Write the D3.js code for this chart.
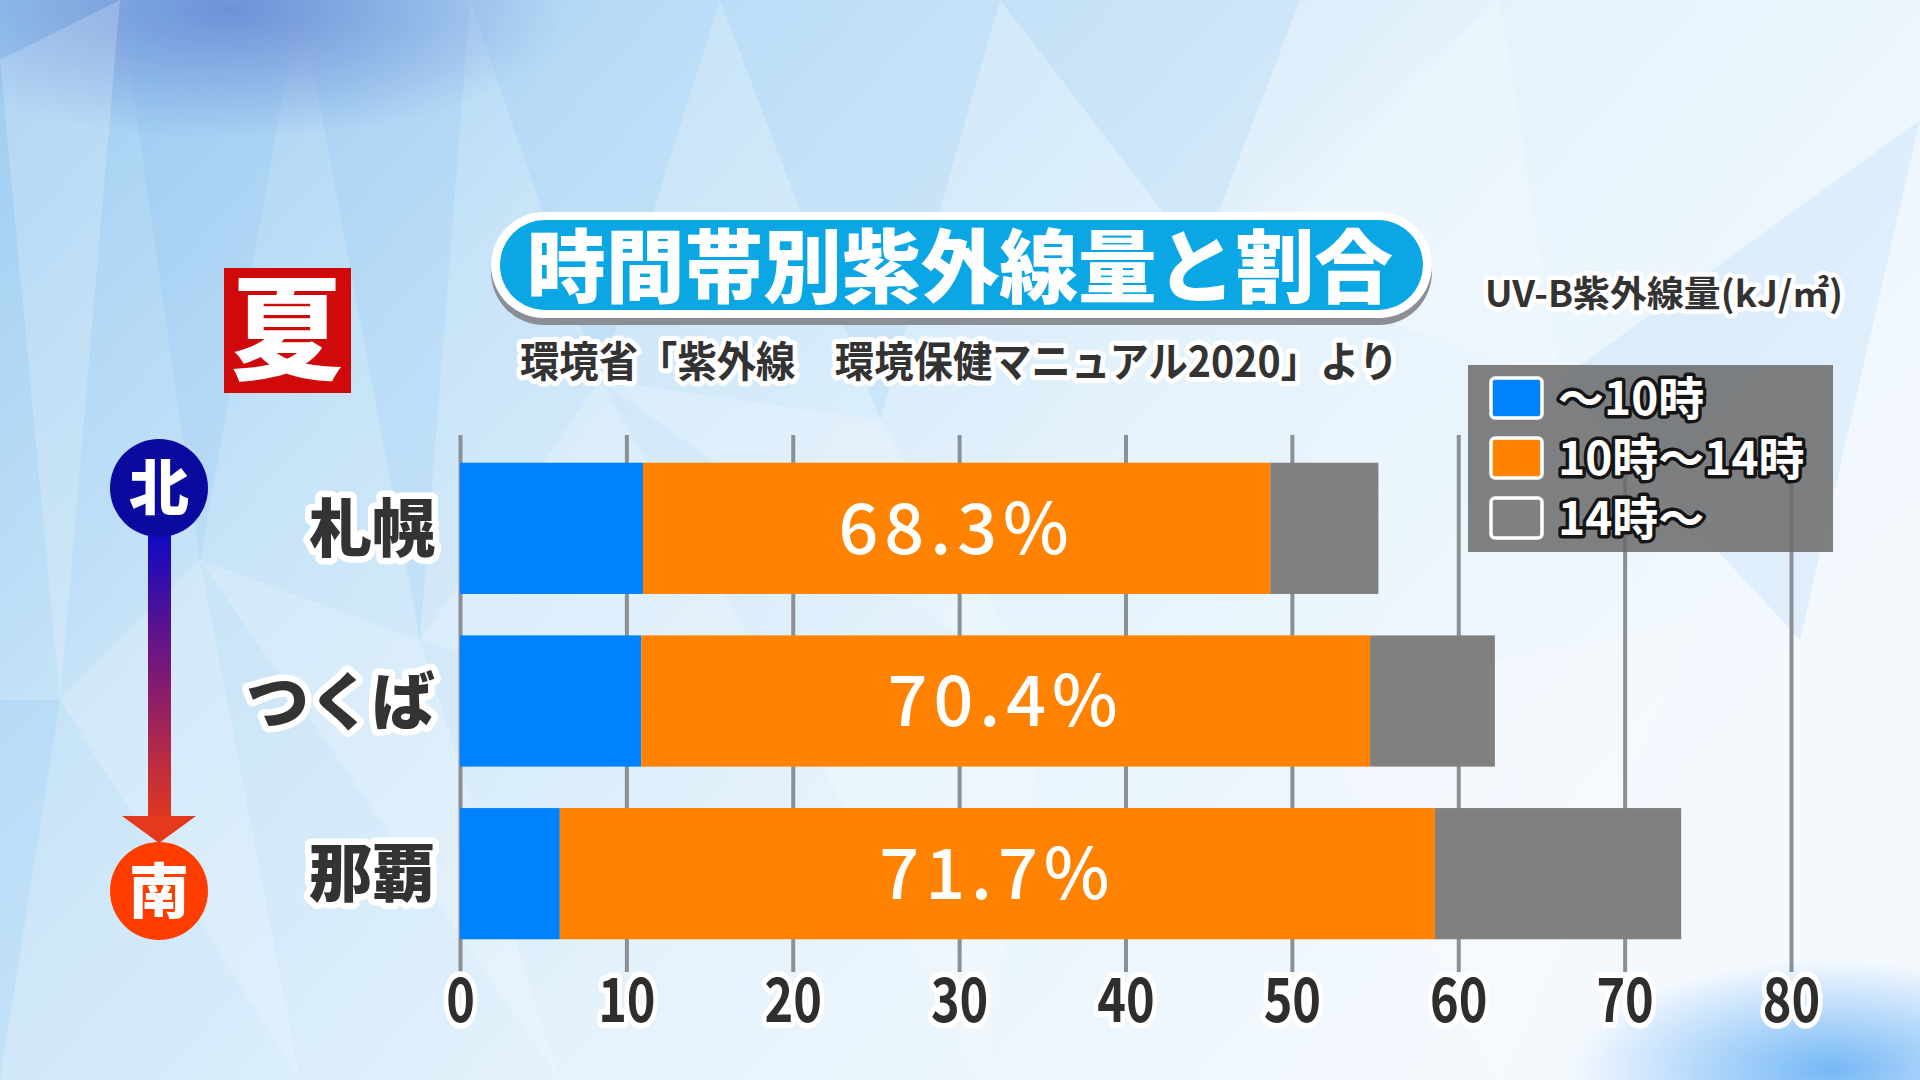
<!DOCTYPE html>
<html>
<head>
<meta charset="utf-8">
<script src="https://cdn.jsdelivr.net/npm/d3@7"></script>
<style>
  html, body { margin:0; padding:0; overflow:hidden; background:#dceefa; }
  svg { display:block; }
  text { font-family:"Noto Sans CJK JP", "Noto Sans", sans-serif; }
</style>
</head>
<body>
<div id="chart-area"></div>
<script>
// data (UV-B, kJ/m2)
var cities = ["札幌", "つくば", "那覇"];
var seriesKeys = ["before10", "mid", "after14"];
var seriesNames = ["～10時", "10時～14時", "14時～"];
var before10 = [11.0, 10.9, 6.0];
var mid10to14 = [37.7, 43.8, 52.6];
var after14 = [6.5, 7.5, 14.8];
var shareLabels = ["68.3%", "70.4%", "71.7%"];
var xTicks = [0, 10, 20, 30, 40, 50, 60, 70, 80];

var colors = ["#0082ff", "#ff8200", "#808080"];

var W = 1920, H = 1080;

var svg = d3.select("#chart-area")
  .append("svg")
    .attr("width", W)
    .attr("height", H);

var defs = svg.append("defs");

// background
var bg = defs.append("linearGradient").attr("id", "bg")
  .attr("x1", "0").attr("y1", "0").attr("x2", "1").attr("y2", "0.5");
bg.append("stop").attr("offset", "0").attr("stop-color", "#9ccbf1");
bg.append("stop").attr("offset", "0.3").attr("stop-color", "#c8e4f8");
bg.append("stop").attr("offset", "0.65").attr("stop-color", "#e6f3fc");
bg.append("stop").attr("offset", "1").attr("stop-color", "#f4f9fe");

var blob = defs.append("radialGradient").attr("id", "blob");
blob.append("stop").attr("offset", "0").attr("stop-color", "#5470c8").attr("stop-opacity", 0.7);
blob.append("stop").attr("offset", "1").attr("stop-color", "#5470c8").attr("stop-opacity", 0);

var blob2 = defs.append("radialGradient").attr("id", "blob2");
blob2.append("stop").attr("offset", "0").attr("stop-color", "#3f9cf2").attr("stop-opacity", 0.7);
blob2.append("stop").attr("offset", "1").attr("stop-color", "#3f9cf2").attr("stop-opacity", 0);

svg.append("rect").attr("width", W).attr("height", H).attr("fill", "url(#bg)");
svg.append("ellipse").attr("cx", 230).attr("cy", 10).attr("rx", 340).attr("ry", 130).attr("fill", "url(#blob)");
svg.append("ellipse").attr("cx", 1830).attr("cy", 1070).attr("rx", 260).attr("ry", 110).attr("fill", "url(#blob2)");

// faceted overlay (tall slivers like the studio backdrop)
var facets = [
  [[0,60],[120,0],[60,700]], [[120,0],[300,0],[200,560]], [[200,560],[60,700],[300,1080]],
  [[300,0],[470,0],[420,640]], [[420,640],[200,560],[560,1080]], [[470,0],[720,0],[600,380]],
  [[600,380],[420,640],[820,760]], [[720,0],[1000,0],[880,420]], [[880,420],[600,380],[1050,700]],
  [[1000,0],[1300,0],[1200,260]], [[1200,260],[1500,0],[1560,380]], [[1560,380],[1920,120],[1800,640]],
  [[1300,700],[1700,620],[1500,1080]], [[0,700],[60,700],[0,1080]], [[820,760],[1050,700],[980,1080]]
];
svg.append("g")
  .selectAll("polygon")
  .data(facets)
  .enter().append("polygon")
    .attr("points", function(d){ return d.map(function(p){ return p.join(","); }).join(" "); })
    .attr("fill", function(d, i){ return i % 2 === 0 ? "#ffffff" : "#6fb2ec"; })
    .attr("fill-opacity", function(d, i){ return i % 2 === 0 ? 0.2 : 0.13; });

function outline(sel, color, w) {
  sel.attr("stroke", color)
     .attr("stroke-width", w)
     .attr("stroke-linejoin", "round")
     .attr("paint-order", "stroke");
  return sel;
}

// scales
var x = d3.scaleLinear()
  .domain([0, 80])
  .range([460, 1791]);

var y = d3.scaleBand()
  .domain(cities)
  .range([442, 960])
  .paddingInner(0.24)
  .paddingOuter(0.12);

var gridTop = 435, gridBottom = 972;

// grid + x tick labels
var xAxisGroup = svg.append("g")
  .attr("class", "x axis")
  .attr("transform", "translate(0," + gridBottom + ")")
  .call(d3.axisBottom(x).tickValues(xTicks).tickSize(-(gridBottom - gridTop)).tickFormat(d3.format("d")));

xAxisGroup.select(".domain").remove();
xAxisGroup.selectAll(".tick line")
  .attr("stroke", "#8b9095")
  .attr("stroke-width", 4);
xAxisGroup.selectAll(".tick text")
  .attr("y", 0)
  .attr("dy", "0.36em")
  .attr("transform", "translate(0,28) scale(0.84,1.06)")
  .attr("fill", "#2e2e2e")
  .attr("font-size", 58)
  .attr("font-weight", 700)
  .call(outline, "#ffffff", 11);

// stacked bars
var table = cities.map(function(c, i){
  return { city: c, before10: before10[i], mid: mid10to14[i], after14: after14[i], label: shareLabels[i] };
});

var stacked = d3.stack().keys(seriesKeys)(table);

svg.append("g")
  .selectAll("g")
  .data(stacked)
  .enter().append("g")
    .attr("fill", function(d, i){ return colors[i]; })
  .selectAll("rect")
  .data(function(d){ return d; })
  .enter().append("rect")
    .attr("x", function(d){ return x(d[0]); })
    .attr("y", function(d){ return y(d.data.city); })
    .attr("width", function(d){ return x(d[1]) - x(d[0]); })
    .attr("height", y.bandwidth());

// share labels centred on the 10-14 segment
svg.append("g")
  .selectAll("text")
  .data(stacked[1])
  .enter().append("text")
    .attr("x", function(d){ return x((d[0] + d[1]) / 2); })
    .attr("y", function(d){ return y(d.data.city) + y.bandwidth() / 2; })
    .attr("dy", "0.36em")
    .attr("text-anchor", "middle")
    .attr("fill", "#ffffff")
    .attr("font-family", "'Noto Sans', sans-serif")
    .attr("font-size", 70)
    .attr("font-weight", 500)
    .attr("letter-spacing", 6)
    .text(function(d){ return d.data.label; });

// city labels
var yAxisGroup = svg.append("g")
  .attr("class", "y axis")
  .attr("transform", "translate(460,0)")
  .call(d3.axisLeft(y).tickSize(0).tickPadding(25));

yAxisGroup.select(".domain").remove();
yAxisGroup.selectAll(".tick text")
  .attr("fill", "#333333")
  .attr("font-size", 63)
  .attr("font-weight", 900)
  .attr("dy", "0.36em")
  .call(outline, "#ffffff", 13);

// title pill
svg.append("rect")
  .attr("x", 491).attr("y", 219).attr("width", 941).attr("height", 106).attr("rx", 53)
  .attr("fill", "#8a8f96");
svg.append("rect")
  .attr("x", 491).attr("y", 212).attr("width", 941).attr("height", 106).attr("rx", 53)
  .attr("fill", "#ffffff");
svg.append("rect")
  .attr("x", 500).attr("y", 220).attr("width", 923).attr("height", 90).attr("rx", 45)
  .attr("fill", "#0ba6e4");
svg.append("text")
  .attr("x", 960).attr("y", 267).attr("dy", "0.36em")
  .attr("text-anchor", "middle")
  .attr("fill", "#ffffff")
  .attr("font-size", 80)
  .attr("font-weight", 900)
  .attr("textLength", 866)
  .attr("lengthAdjust", "spacingAndGlyphs")
  .text("時間帯別紫外線量と割合");

svg.append("text")
  .attr("x", 959).attr("y", 362).attr("dy", "0.36em")
  .attr("text-anchor", "middle")
  .attr("fill", "#333333")
  .attr("font-size", 42)
  .attr("font-weight", 700)
  .attr("textLength", 878)
  .attr("lengthAdjust", "spacingAndGlyphs")
  .call(outline, "#ffffff", 10)
  .text("環境省「紫外線　環境保健マニュアル2020」より");

// unit label
svg.append("text")
  .attr("x", 1485).attr("y", 294).attr("dy", "0.36em")
  .attr("fill", "#333333")
  .attr("font-size", 36)
  .attr("font-weight", 700)
  .attr("textLength", 358)
  .attr("lengthAdjust", "spacingAndGlyphs")
  .call(outline, "#ffffff", 9)
  .text("UV-B紫外線量(kJ/㎡)");

// season badge
svg.append("rect")
  .attr("x", 224).attr("y", 268).attr("width", 127).attr("height", 125)
  .attr("fill", "#d00a0a");
svg.append("text")
  .attr("x", 287).attr("y", 331).attr("dy", "0.36em")
  .attr("text-anchor", "middle")
  .attr("fill", "#ffffff")
  .attr("font-size", 112)
  .attr("font-weight", 900)
  .text("夏");

// north -> south arrow
var ns = defs.append("linearGradient").attr("id", "ns")
  .attr("x1", "0").attr("y1", "0").attr("x2", "0").attr("y2", "1");
ns.append("stop").attr("offset", "0").attr("stop-color", "#0606cc");
ns.append("stop").attr("offset", "0.5").attr("stop-color", "#7a1878");
ns.append("stop").attr("offset", "1").attr("stop-color", "#e2381e");

svg.append("rect")
  .attr("x", 148).attr("y", 520).attr("width", 23).attr("height", 300)
  .attr("fill", "url(#ns)");
svg.append("polygon")
  .attr("points", "122,816 196,816 159,843")
  .attr("fill", "#e4391c");

svg.append("circle").attr("cx", 159).attr("cy", 488).attr("r", 49).attr("fill", "#0a0a9e");
svg.append("circle").attr("cx", 159).attr("cy", 891).attr("r", 49).attr("fill", "#ff3d00");
svg.append("text")
  .attr("x", 159).attr("y", 488).attr("dy", "0.36em")
  .attr("text-anchor", "middle").attr("fill", "#ffffff")
  .attr("font-size", 60).attr("font-weight", 900)
  .text("北");
svg.append("text")
  .attr("x", 159).attr("y", 891).attr("dy", "0.36em")
  .attr("text-anchor", "middle").attr("fill", "#ffffff")
  .attr("font-size", 60).attr("font-weight", 900)
  .text("南");

// legend
var legend = svg.append("g").attr("transform", "translate(1468,365)");
legend.append("rect")
  .attr("width", 365).attr("height", 187)
  .attr("fill", "#6b6b6b")
  .attr("fill-opacity", 0.86);

var rows = legend.selectAll("g.row")
  .data(seriesNames)
  .enter().append("g")
    .attr("class", "row")
    .attr("transform", function(d, i){ return "translate(0," + (33 + i * 60) + ")"; });

rows.append("rect")
  .attr("x", 23).attr("y", -20).attr("width", 51).attr("height", 40).attr("rx", 4)
  .attr("fill", function(d, i){ return colors[i]; })
  .attr("stroke", "#ffffff")
  .attr("stroke-width", 3.5);

rows.append("text")
  .attr("x", 90).attr("dy", "0.36em")
  .attr("fill", "#ffffff")
  .attr("font-size", 46)
  .attr("font-weight", 700)
  .call(outline, "#151515", 7)
  .text(function(d){ return d; });
</script>
</body>
</html>
